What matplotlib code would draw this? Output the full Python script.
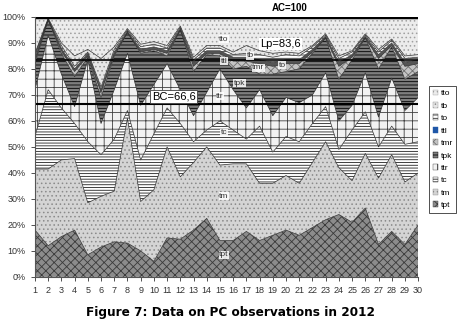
import numpy as np
import matplotlib
matplotlib.use("Agg")
import matplotlib.pyplot as plt
from matplotlib.patches import Patch

plt.rcParams['font.family'] = ['Liberation Sans', 'DejaVu Sans']
plt.rcParams['hatch.linewidth'] = 0.6

days = list(range(1, 31))

# shares in percent (bottom of stack first)
tpt = [18, 12, 15.5, 18, 8.5, 11.5, 13.5, 13, 10, 6, 15, 14.5, 18, 22.5, 14,
       14, 17.5, 14, 16, 18, 16, 19, 22, 24, 21, 26.5, 12.5, 17.5, 12.5, 20]
tm = [23.5, 29.5, 29.5, 27.5, 20, 19.5, 19.5, 48, 19, 27.5, 35, 24, 26, 27.5, 29,
      29.5, 26, 22, 20, 21, 20, 25, 30, 18, 16, 21, 25.5, 29.5, 24, 20]
tc = [12.5, 30.5, 20, 13.5, 23.5, 16, 20, 3, 16, 21.5, 15, 20.5, 8, 6.5, 17,
      13, 9.5, 22, 12, 15, 16, 15, 13.5, 7, 19.5, 16, 12, 11, 14.5, 12]
ttr = [18, 21, 13, 6.5, 31.5, 12, 19, 22, 21, 19, 17, 13, 10, 14.5, 20,
       15.5, 12, 14, 14, 15, 15, 11, 13, 11, 9.5, 15, 11.5, 18.5, 13, 17]
tpk = [10, 6, 8, 11.5, 1, 10, 13, 8, 20, 13, 3, 23, 17, 14.5, 5,
       8, 16, 6, 16, 10, 13, 16, 13.5, 16, 17.5, 13.5, 18.5, 12, 12, 10]
tmr = [1, 0, 1, 2, 0.5, 2, 0.5, 0, 0.5, 0.5, 1, 0, 2, 0.5, 1,
       3, 2, 4, 3, 3, 2, 0.5, 0, 5, 1, 0, 4, 0.5, 5, 3]
ttl = [1.5, 0, 1, 1, 1, 1, 1, 0.5, 1, 1, 1, 0.5, 1.5, 1, 1,
       1.5, 1.5, 1.5, 1.5, 1.5, 1.5, 1, 0.5, 1.5, 1, 0.5, 1.5, 1, 1.5, 1.5]
to = [1, 0, 1, 1, 0.5, 1, 1, 0.5, 1, 1, 1, 0.5, 1, 1, 1,
      1, 1.5, 2, 2, 2, 1.5, 1, 0.5, 1.5, 1, 0.5, 1, 1, 1.5, 1]
tb = [0.5, 0.5, 1, 4, 1, 11, 1, 0.5, 1, 1, 1, 0.5, 1, 1, 1,
      1, 3, 1.5, 1.5, 1, 1, 0.5, 0.5, 1, 0.5, 0.5, 1, 0.5, 1, 1]
tto = [14, 0.5, 10, 15, 12.5, 16, 11.5, 4.5, 10.5, 9.5, 11, 3.5, 15.5, 11, 11,
       13.5, 11, 13, 14, 13.5, 14, 11, 6.5, 15, 13, 6.5, 12.5, 8.5, 15, 14.5]

names = ['tpt', 'tm', 'tc', 'ttr', 'tpk', 'tmr', 'ttl', 'to', 'tb', 'tto']
series = [tpt, tm, tc, ttr, tpk, tmr, ttl, to, tb, tto]

# face colour, hatch, hatch colour
styles = {
    'tpt': ('#8c8c8c', 'xxxx', '#3a3a3a'),
    'tm':  ('#d4d4d4', '....', '#8a8a8a'),
    'tc':  ('#ffffff', '------', '#202020'),
    'ttr': ('#f2f2f2', '++', '#404040'),
    'tpk': ('#7e7e7e', '-----', '#000000'),
    'tmr': ('#c4c4c4', 'xxxx', '#707070'),
    'ttl': ('#555555', '', '#555555'),
    'to':  ('#ffffff', '-----', '#303030'),
    'tb':  ('#e6e6e6', '....', '#909090'),
    'tto': ('#ececec', '....', '#a0a0a0'),
}

ref_lines = [100, 83.6, 66.6]

fig = plt.figure(figsize=(4.6, 3.32), dpi=100)
ax = fig.add_axes([0.076, 0.166, 0.833, 0.783])

base = np.zeros(len(days))
for name, vals in zip(names, series):
    top = base + np.array(vals)
    fc, ht, hc = styles[name]
    ax.fill_between(days, base, top, facecolor=fc, edgecolor=hc, hatch=ht, linewidth=0)
    ax.plot(days, top, color='#303030', lw=0.5)
    base = top

# reference lines
ax.axhline(ref_lines[0], color='black', lw=2.5)
ax.axhline(ref_lines[1], color='black', lw=1.2)
ax.axhline(ref_lines[2], color='black', lw=1.5)

box = dict(facecolor='white', edgecolor='none', pad=0.8)
ax.text(20.3, 103.3, 'AC=100', ha='center', va='center', fontsize=7, weight='bold')
ax.text(19.6, 89.5, 'Lp=83,6', ha='center', va='center', fontsize=8, bbox=box)
ax.text(11.5, 69.5, 'BC=66,6', ha='center', va='center', fontsize=8,
        bbox=dict(facecolor='white', edgecolor='#404040', pad=1.2, lw=0.6))

# in-chart series labels
labels = [('tto', 15.3, 91.5), ('tb', 17.3, 85), ('tmr', 17.9, 80.5), ('to', 19.7, 81.5),
          ('ttl', 15.3, 83), ('tpk', 16.5, 74.5), ('ttr', 15.0, 69.5), ('tc', 15.3, 55.5),
          ('tm', 15.3, 31), ('tpt', 15.3, 8.5)]
for txt, xx, yy in labels:
    ax.text(xx, yy, txt, ha='center', va='center', fontsize=6, color='#333333',
            bbox=dict(facecolor='white', edgecolor='none', pad=0.4, alpha=0.85))

ax.set_xlim(1, 30)
ax.set_ylim(0, 100)
ax.set_xticks(days)
ax.set_yticks(range(0, 101, 10))
ax.set_yticklabels([f'{v}%' for v in range(0, 101, 10)])
ax.tick_params(labelsize=6.5, colors='#333333', length=3, width=0.6)
for s in ['top', 'right']:
    ax.spines[s].set_visible(False)
ax.spines['left'].set_color('#555555')
ax.spines['bottom'].set_color('#555555')

handles = []
for n in names[::-1]:
    fc, ht, hc = styles[n]
    if n == 'ttl':
        fc, hc = '#1f57a8', '#1f57a8'
    handles.append(Patch(facecolor=fc, edgecolor=hc, hatch=ht, lw=0.3))
leg = fig.legend(handles, names[::-1], loc='upper left', bbox_to_anchor=(0.933, 0.74),
                 fontsize=6, frameon=True, fancybox=False, edgecolor='black',
                 handlelength=0.7, handleheight=0.7, handletextpad=0.3,
                 labelspacing=0.55, borderpad=0.4, borderaxespad=0)
leg.get_frame().set_linewidth(0.6)

fig.text(0.5, 0.06, 'Figure 7: Data on PC observations in 2012', ha='center',
         va='center', fontsize=8.7, weight='bold', family=['DejaVu Sans'])

fig.savefig('out.png', dpi=100)
